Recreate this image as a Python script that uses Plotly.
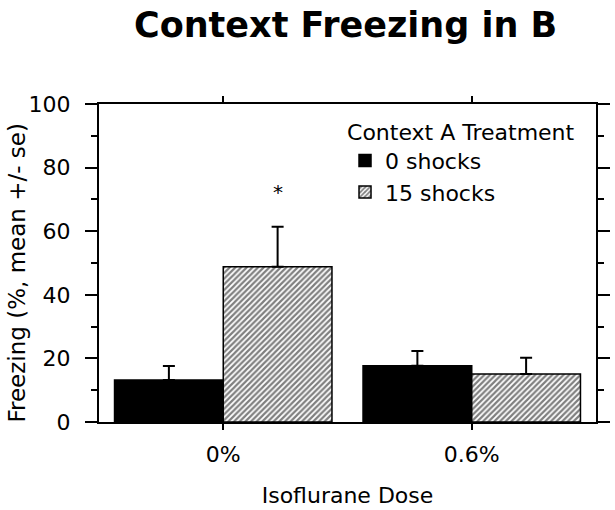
import plotly.graph_objects as go

categories = ["0%", "0.6%"]
series_names = ["0 shocks", "15 shocks"]
means_0 = [13.2, 17.7]
se_0 = [4.4, 4.6]
means_15 = [48.8, 15.1]
se_15 = [12.6, 5.1]
y_ticks = [0, 20, 40, 60, 80, 100]

FONT = "DejaVu Sans"

fig = go.Figure()
fig.add_trace(go.Bar(
    x=categories, y=means_0, name=series_names[0],
    marker=dict(color="black", line=dict(color="black", width=1.5)),
    error_y=dict(type="data", array=se_0, arrayminus=[0, 0], symmetric=False,
                 color="black", thickness=2, width=6),
))
fig.add_trace(go.Bar(
    x=categories, y=means_15, name=series_names[1],
    marker=dict(color="white", line=dict(color="black", width=1.5),
                pattern=dict(shape="/", size=4, solidity=0.55, fgcolor="black", bgcolor="white")),
    error_y=dict(type="data", array=se_15, arrayminus=[0, 0], symmetric=False,
                 color="black", thickness=2, width=6),
))

fig.add_annotation(x=0.219, xref="x", y=means_15[0] + se_15[0] + 11, yref="y",
                   text="*", showarrow=False, font=dict(family=FONT, size=20, color="black"))

# y-axis title placed as rotated text left of the tick labels
fig.add_annotation(x=-0.165, xref="paper", y=0.47, yref="paper", xanchor="center", yanchor="middle",
                   text="Freezing (%, mean +/- se)", textangle=-90, showarrow=False,
                   font=dict(family=FONT, size=23, color="black"))

fig.update_layout(
    width=615, height=510,
    margin=dict(l=99, r=19, t=104, b=88, autoexpand=False),
    paper_bgcolor="white", plot_bgcolor="white",
    font=dict(family=FONT, size=22, color="black"),
    title=dict(text="<b>Context Freezing in B</b>", x=0.562, xanchor="center",
               y=1 - 25 / 510, yref="container", yanchor="middle",
               font=dict(family=FONT, size=35, color="black")),
    barmode="group", bargap=0.125, bargroupgap=0,
    showlegend=True,
    legend=dict(x=0.495, y=0.978, xanchor="left", yanchor="top",
                bgcolor="rgba(0,0,0,0)", borderwidth=0,
                title=dict(text="Context A Treatment", font=dict(family=FONT, size=22)),
                font=dict(family=FONT, size=22), tracegroupgap=0),
)
fig.update_xaxes(
    range=[-0.5, 1.5], showline=True, linecolor="black", linewidth=2, mirror="ticks",
    ticks="outside", ticklen=6, tickwidth=2, tickcolor="black", automargin=False,
    showgrid=False, zeroline=False, ticklabelstandoff=6,
    title=dict(text="Isoflurane Dose", font=dict(family=FONT, size=22), standoff=21),
)
fig.update_yaxes(
    range=[0, 100], tickvals=y_ticks, showline=True, linecolor="black", linewidth=2,
    mirror="ticks", ticks="outside", ticklen=12, tickwidth=2, tickcolor="black",
    minor=dict(dtick=10, ticks="outside", ticklen=6, tickwidth=2, tickcolor="black"),
    showgrid=False, zeroline=False, ticklabelposition="outside", ticklabelstandoff=10,
    automargin=False,
)

fig.write_html("out.html", post_script="document.body.style.margin='0px';",
               config={"displayModeBar": False})
